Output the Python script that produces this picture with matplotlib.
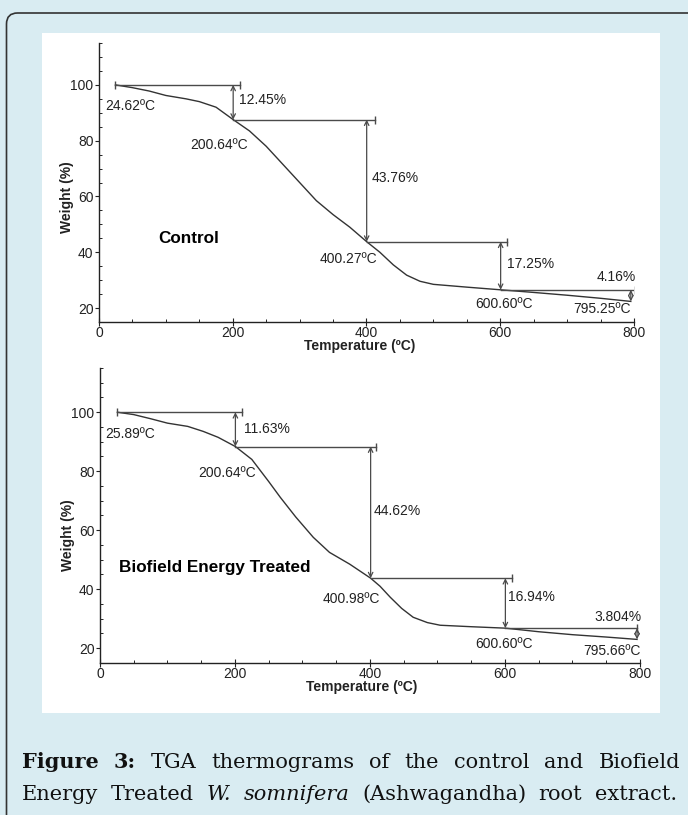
import matplotlib
matplotlib.use("Agg")
import matplotlib.pyplot as plt
from matplotlib.patches import FancyBboxPatch, Rectangle
from matplotlib.ticker import MultipleLocator

plt.rcParams["font.family"] = ["Liberation Sans", "DejaVu Sans"]

# control curve
temp_control = [24.62, 50, 75, 100, 130, 150, 175, 200.64, 225, 250, 275, 300,
                325, 350, 375, 400.27, 420, 440, 460, 480, 500, 550, 600.60,
                650, 700, 750, 795.25]
weight_control = [100, 99.0, 97.8, 96.2, 95.0, 94.0, 92.0, 87.55, 83.5, 78.0,
                  71.5, 65.0, 58.5, 53.5, 49.0, 43.79, 40.0, 35.5, 31.8, 29.6,
                  28.5, 27.5, 26.54, 25.6, 24.6, 23.5, 22.38]

# biofield energy treated curve
temp_treated = [25.89, 50, 75, 100, 130, 153, 175, 200.64, 225, 250, 267, 290,
                316, 340, 370, 400.98, 415, 430, 447, 464, 485, 504, 550,
                600.60, 650, 700, 750, 795.66]
weight_treated = [100, 99.2, 97.8, 96.3, 95.2, 93.5, 91.5, 88.37, 84.0, 76.5,
                  71.2, 64.5, 57.6, 52.5, 48.5, 43.75, 41.0, 37.3, 33.5, 30.5,
                  28.7, 27.8, 27.3, 26.81, 25.6, 24.6, 23.8, 23.0]

# step temperatures and weight losses
steps_control = [24.62, 200.64, 400.27, 600.60, 795.25]
loss_control = [12.45, 43.76, 17.25, 4.16]
loss_labels_control = ["12.45%", "43.76%", "17.25%", "4.16%"]

steps_treated = [25.89, 200.64, 400.98, 600.60, 795.66]
loss_treated = [11.63, 44.62, 16.94, 3.804]
loss_labels_treated = ["11.63%", "44.62%", "16.94%", "3.804%"]

x_ticks = [0, 200, 400, 600, 800]
y_ticks = [20, 40, 60, 80, 100]

BG = "#d9ecf2"
INK = "#222222"
LINE = "#4a4a4a"

fig = plt.figure(figsize=(6.88, 8.15), dpi=100)
fig.patch.set_facecolor(BG)

# rounded frame and white panel
frame = FancyBboxPatch((0.065, -0.5), 7.5, 8.02 + 0.5,
                       boxstyle="round,pad=0,rounding_size=0.11",
                       transform=fig.dpi_scale_trans, facecolor=BG,
                       edgecolor="#333333", lw=1.2, zorder=-20)
fig.add_artist(frame)
panel = Rectangle((0.42, 1.02), 6.18, 6.80, transform=fig.dpi_scale_trans,
                  facecolor="white", edgecolor="none", zorder=-10)
fig.add_artist(panel)


def draw_tga(ax, temps, weights, steps, losses, loss_labels, name, layout):
    ax.set_facecolor("none")
    ax.plot(temps, weights, color="#333333", lw=1.0)

    # step levels
    levels = [100.0]
    for loss in losses:
        levels.append(levels[-1] - loss)

    ends = layout["ends"]
    for i in range(len(losses)):
        t0, t1 = steps[i], steps[i + 1]
        ax.plot([t0, ends[i]], [levels[i], levels[i]], color=LINE, lw=1.0)
        ax.plot([ends[i]], [levels[i]], marker="|", ms=6, color=LINE, mew=1.0)
        ax.annotate("", xy=(t1, levels[i + 1]), xytext=(t1, levels[i]),
                    arrowprops=dict(arrowstyle="<->", color=LINE, lw=0.9,
                                    shrinkA=0, shrinkB=0, mutation_scale=8))
    ax.plot([steps[0]], [100], marker="|", ms=6, color=LINE, mew=1.0)

    # loss labels
    for lab, (x, y, ha) in zip(loss_labels, layout["loss_pos"]):
        ax.text(x, y, lab, ha=ha, va="center", fontsize=10, color=INK)
    # temperature labels
    for t, (x, y, ha) in zip(steps, layout["temp_pos"]):
        ax.text(x, y, f"{t:.2f}ºC", ha=ha, va="center", fontsize=10, color=INK)

    ax.text(layout["name_pos"][0], layout["name_pos"][1], name, ha="left",
            va="center", fontsize=12.3, fontweight="bold", color="black")

    ax.set_xlim(0, 800)
    ax.set_ylim(15, 115)
    ax.set_xticks(x_ticks)
    ax.set_yticks(y_ticks)
    ax.xaxis.set_minor_locator(MultipleLocator(50))
    ax.yaxis.set_minor_locator(MultipleLocator(5))
    ax.tick_params(axis="y", which="major", direction="out", length=3,
                   width=0.8, labelsize=10, pad=1, colors=INK)
    ax.tick_params(axis="y", which="minor", direction="in", length=2, width=0.6)
    ax.tick_params(axis="x", which="major", direction="inout", length=6,
                   width=0.8, labelsize=10, pad=0, colors=INK)
    ax.tick_params(axis="x", which="minor", direction="in", length=2, width=0.6)
    for s in ["top", "right"]:
        ax.spines[s].set_visible(False)
    for s in ["left", "bottom"]:
        ax.spines[s].set_color("#222222")
        ax.spines[s].set_linewidth(1.0)

    ax.set_ylabel("Weight (%)", fontsize=10, fontweight="bold", color=INK)
    ax.yaxis.set_label_coords(layout["ylab"][0], layout["ylab"][1])
    ax.text(layout["xlab"][0], layout["xlab"][1], "Temperature (ºC)",
            transform=ax.transAxes, ha="center", va="center", fontsize=10,
            fontweight="bold", color=INK)


ax1 = fig.add_axes([0.1439, 0.6049, 0.7776, 0.3423])
draw_tga(ax1, temp_control, weight_control, steps_control, loss_control,
         loss_labels_control, "Control",
         dict(ends=[211, 413, 610, 801],
              loss_pos=[(210, 94.6, "left"), (408, 66.6, "left"),
                        (610, 35.8, "left"), (803, 31.1, "right")],
              temp_pos=[(9, 92.5, "left"), (136, 78.5, "left"),
                        (330, 37.6, "left"), (562, 21.4, "left"),
                        (795, 19.6, "right")],
              name_pos=(88, 45),
              ylab=(-0.046, 0.448), xlab=(0.488, -0.086)))

ax2 = fig.add_axes([0.1453, 0.1865, 0.7849, 0.3620])
draw_tga(ax2, temp_treated, weight_treated, steps_treated, loss_treated,
         loss_labels_treated, "Biofield Energy Treated",
         dict(ends=[210, 409, 610, 796],
              loss_pos=[(213, 94.3, "left"), (406, 66.4, "left"),
                        (604, 37.3, "left"), (803, 30.5, "right")],
              temp_pos=[(7.4, 92.5, "left"), (145, 79.3, "left"),
                        (330, 36.6, "left"), (556, 21.4, "left"),
                        (801, 19.0, "right")],
              name_pos=(28, 47.5),
              ylab=(-0.047, 0.434), xlab=(0.485, -0.081)))


# justified caption
def justify(tokens, y_in, x0_in, x1_in, size):
    renderer = fig.canvas.get_renderer()
    texts = []
    for word, weight, style in tokens:
        t = fig.text(0, y_in, word, transform=fig.dpi_scale_trans,
                     family=["DejaVu Serif"], fontsize=size,
                     fontweight=weight, fontstyle=style, color="#111111",
                     va="baseline", ha="left")
        texts.append(t)
    widths = [t.get_window_extent(renderer).width / fig.dpi for t in texts]
    gap = (x1_in - x0_in - sum(widths)) / (len(texts) - 1)
    x = x0_in
    for t, w in zip(texts, widths):
        t.set_x(x)
        x += w + gap


line1 = [("Figure", "bold", "normal"), ("3:", "bold", "normal")] + \
    [(w, "normal", "normal") for w in
     "TGA thermograms of the control and Biofield".split()]
line2 = [(w, "normal", "normal") for w in "Energy Treated".split()] + \
    [("W.", "normal", "italic"), ("somnifera", "normal", "italic")] + \
    [(w, "normal", "normal") for w in "(Ashwagandha) root extract.".split()]

justify(line1, 0.47, 0.22, 6.80, 15)
justify(line2, 0.15, 0.22, 6.77, 15)

fig.savefig("out.png", dpi=100, facecolor=BG)
